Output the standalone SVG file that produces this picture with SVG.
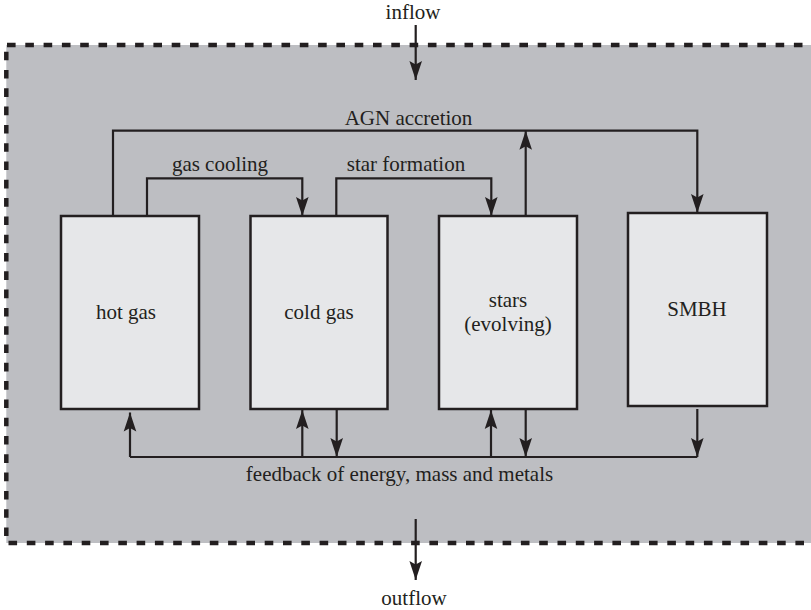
<svg xmlns="http://www.w3.org/2000/svg" width="811" height="610" viewBox="0 0 811 610">
<style>
text{font-family:'Liberation Serif','Times New Roman','DejaVu Serif',serif;font-size:21px;fill:#231f20;text-anchor:middle}
.box{fill:#e6e7e9;stroke:#231f20;stroke-width:2.5}
.ln{fill:none;stroke:#231f20;stroke-width:2.2}
.arr{marker-end:url(#ah)}
.border{fill:none;stroke:#231f20;stroke-width:4.5;stroke-dasharray:8.6 9.7}
</style>
<defs>
<marker id="ah" viewBox="-20 -7 21 14" refX="0" refY="0" markerWidth="21" markerHeight="14" markerUnits="userSpaceOnUse" orient="auto">
<path d="M0,0 L-19,-6.3 L-15.5,0 L-19,6.3 z" fill="#231f20"/>
</marker>
</defs>
<g id="background">
<rect x="6.3" y="45" width="805" height="498" fill="#bdbec2"/>
<line class="border" x1="7" y1="45" x2="811" y2="45"/>
<line class="border" x1="6.3" y1="51.7" x2="6.3" y2="543"/>
<line class="border" x1="7" y1="543" x2="811" y2="543" style="stroke-dashoffset:-1.5"/>
</g>
<g id="hot-gas">
<rect class="box" x="61" y="216" width="138" height="193"/>
<text x="126" y="319" font-family="Liberation Serif, serif">hot gas</text>
</g>
<g id="cold-gas">
<rect class="box" x="250.5" y="216" width="137" height="193"/>
<text x="319" y="319" font-family="Liberation Serif, serif">cold gas</text>
</g>
<g id="stars">
<rect class="box" x="439" y="216" width="138" height="193"/>
<text x="508" y="307" font-family="Liberation Serif, serif">stars</text>
<text x="508" y="331" font-family="Liberation Serif, serif">(evolving)</text>
</g>
<g id="smbh">
<rect class="box" x="628" y="213" width="139" height="193"/>
<text x="697" y="316" font-family="Liberation Serif, serif">SMBH</text>
</g>
<g id="connectors">
<path class="ln arr" d="M113,216 V130.7 H697.3 V213"/>
<path class="ln arr" d="M147,216 V178.3 H302.3 V216"/>
<path class="ln arr" d="M336.3,216 V178.3 H491.3 V216"/>
<path class="ln arr" d="M525.7,216 V130.7"/>
<path class="ln" d="M130,457 H697.3"/>
<path class="ln arr" d="M130,457 V412.5"/>
<path class="ln arr" d="M302.3,457 V410"/>
<path class="ln arr" d="M336.7,409 V457"/>
<path class="ln arr" d="M491,457 V410"/>
<path class="ln arr" d="M525.7,409 V457"/>
<path class="ln arr" d="M697.3,409 V457"/>
<path class="ln arr" d="M415.7,25 V80"/>
<path class="ln arr" d="M415.7,519 V580"/>
</g>
<g id="labels">
<text x="413" y="19">inflow</text>
<text x="408.5" y="125">AGN accretion</text>
<text x="220" y="171">gas cooling</text>
<text x="406" y="171">star formation</text>
<text x="399.5" y="481">feedback of energy, mass and metals</text>
<text x="414" y="605">outflow</text>
</g>
</svg>
